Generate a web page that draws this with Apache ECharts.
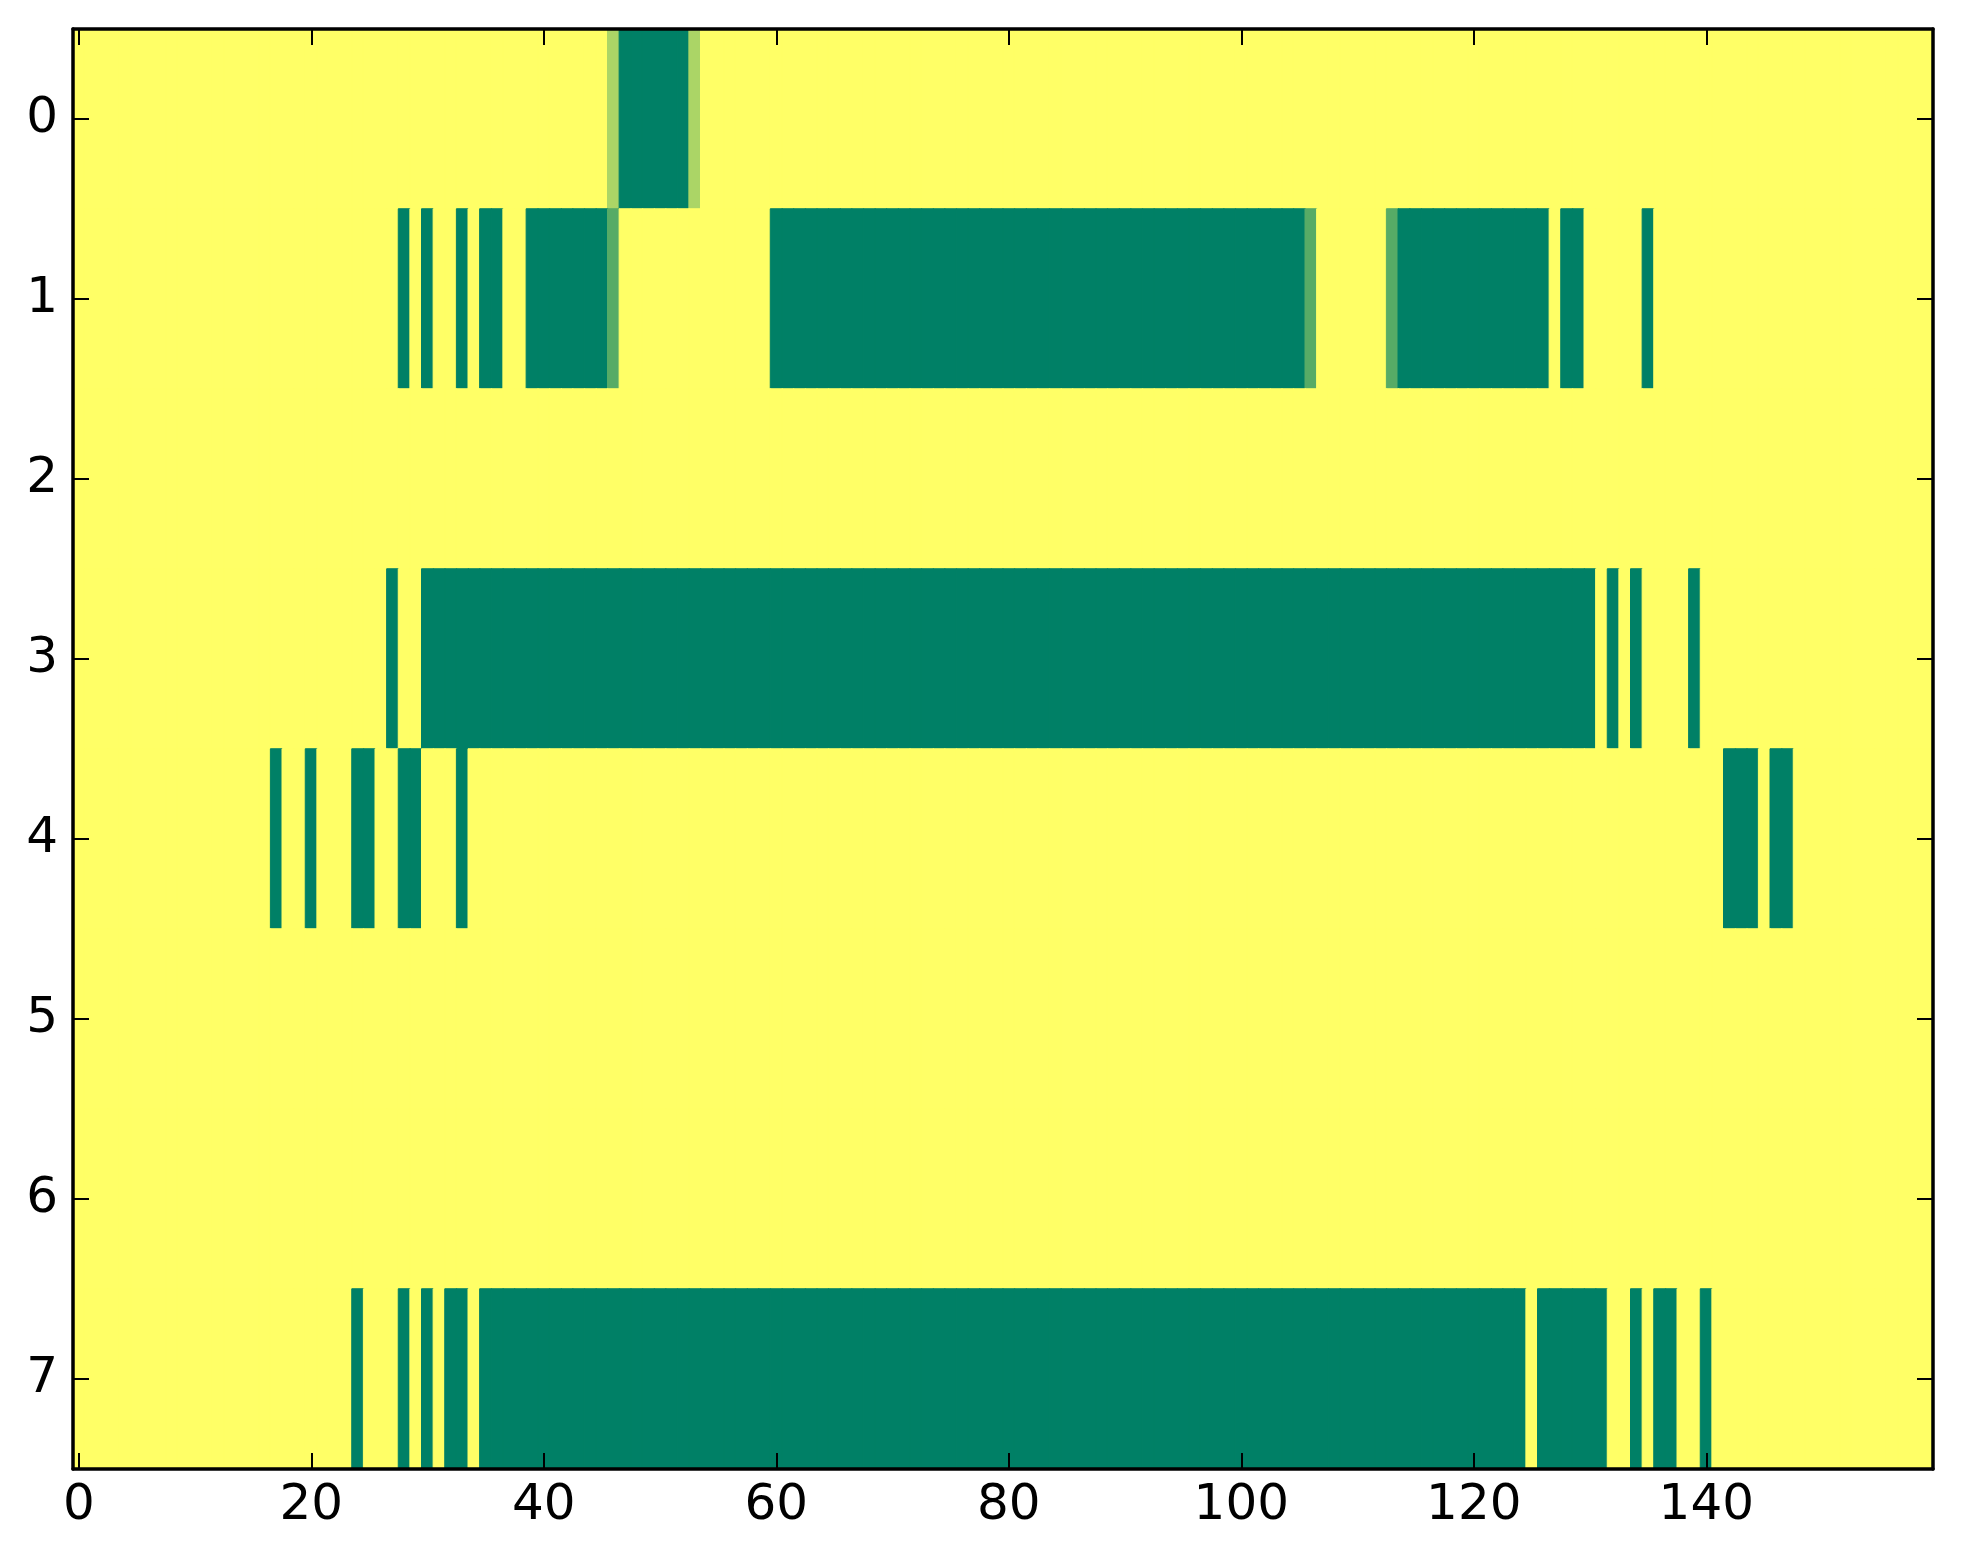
<!DOCTYPE html>
<html>
<head>
<meta charset="utf-8">
<style>
html,body{margin:0;padding:0;background:#fff;}
#chart{width:1963px;height:1564px;}
</style>
<script src="https://cdn.jsdelivr.net/npm/echarts@6/dist/echarts.min.js"></script>
</head>
<body>
<div id="chart"></div>
<script>
// Number of columns and rows
var nCols = 160;
var rowLabels = ['0','1','2','3','4','5','6','7'];
var xTickLabels = ['0','20','40','60','80','100','120','140'];
// Cells that differ from 1 (yellow): [startCol, endCol, value]
var row0 = [[46,46,0.67],[47,52,0],[53,53,0.67]];
var row1 = [[28,28,0],[30,30,0],[33,33,0],[35,36,0],[39,45,0],[46,46,0.34],
            [60,105,0],[106,106,0.34],[113,113,0.34],[114,126,0],[128,129,0],[135,135,0]];
var row2 = [];
var row3 = [[27,27,0],[30,130,0],[132,132,0],[134,134,0],[139,139,0]];
var row4 = [[17,17,0],[20,20,0],[24,25,0],[28,29,0],[33,33,0],[142,144,0],[146,147,0]];
var row5 = [];
var row6 = [];
var row7 = [[24,24,0],[28,28,0],[30,30,0],[32,33,0],[35,124,0],[126,131,0],
            [134,134,0],[136,137,0],[140,140,0]];
var rows = [row0,row1,row2,row3,row4,row5,row6,row7];

var lowColor = [0,128,102], highColor = [255,255,102];
function cmap(v){
  var c = lowColor.map(function(a,i){ return Math.round(a + (highColor[i]-a)*v); });
  return 'rgb(' + c.join(',') + ')';
}

var cols = [];
for (var c = 0; c < nCols; c++) cols.push(String(c));

var data = [];
rows.forEach(function(segs, r){
  var vals = [];
  for (var c = 0; c < nCols; c++) vals.push(1);
  segs.forEach(function(s){ for (var c = s[0]; c <= s[1]; c++) vals[c] = s[2]; });
  for (var c = 0; c < nCols; c++) {
    data.push({value:[c, r, vals[c]], itemStyle:{borderColor:cmap(vals[c]), borderWidth:1}});
  }
});

var font = 'DejaVu Sans';
var lineStyle = {color:'#000', width:3.5};
function tickInterval(i){ return i % 20 === 0; }

var chart = echarts.init(document.getElementById('chart'), null, {renderer:'canvas'});
chart.setOption({
  animation:false,
  backgroundColor:'#fff',
  grid:{left:73, right:30, top:29, bottom:95, containLabel:false},
  xAxis:[{
    type:'category', data:cols, position:'bottom', boundaryGap:true,
    axisLine:{show:true, onZero:false, lineStyle:lineStyle},
    axisTick:{show:true, inside:true, length:16, alignWithLabel:true, interval:tickInterval, lineStyle:{color:'#000', width:2}},
    axisLabel:{show:true, interval:tickInterval, margin:12, fontSize:50, fontFamily:font, color:'#000',
      formatter:function(v){ return xTickLabels.indexOf(v) >= 0 ? v : ''; }},
    splitLine:{show:false}, z:10
  },{
    type:'category', data:cols, position:'top', boundaryGap:true,
    axisLine:{show:true, onZero:false, lineStyle:lineStyle},
    axisTick:{show:true, inside:true, length:16, alignWithLabel:true, interval:tickInterval, lineStyle:{color:'#000', width:2}},
    axisLabel:{show:false}, splitLine:{show:false}, z:10
  }],
  yAxis:[{
    type:'category', data:rowLabels, inverse:true, position:'left', boundaryGap:true,
    axisLine:{show:true, onZero:false, lineStyle:lineStyle},
    axisTick:{show:true, inside:true, length:16, alignWithLabel:true, lineStyle:{color:'#000', width:2}},
    axisLabel:{show:true, margin:15, fontSize:50, fontFamily:font, color:'#000'},
    splitLine:{show:false}, z:10
  },{
    type:'category', data:rowLabels, inverse:true, position:'right', boundaryGap:true,
    axisLine:{show:true, onZero:false, lineStyle:lineStyle},
    axisTick:{show:true, inside:true, length:16, alignWithLabel:true, lineStyle:{color:'#000', width:2}},
    axisLabel:{show:false}, splitLine:{show:false}, z:10
  }],
  visualMap:{type:'continuous', min:0, max:1, dimension:2, show:false,
    inRange:{color:['#008066','#ffff66']}},
  series:[{
    type:'heatmap', xAxisIndex:0, yAxisIndex:0, data:data,
    emphasis:{disabled:true}, progressive:0
  }]
});
</script>
</body>
</html>
